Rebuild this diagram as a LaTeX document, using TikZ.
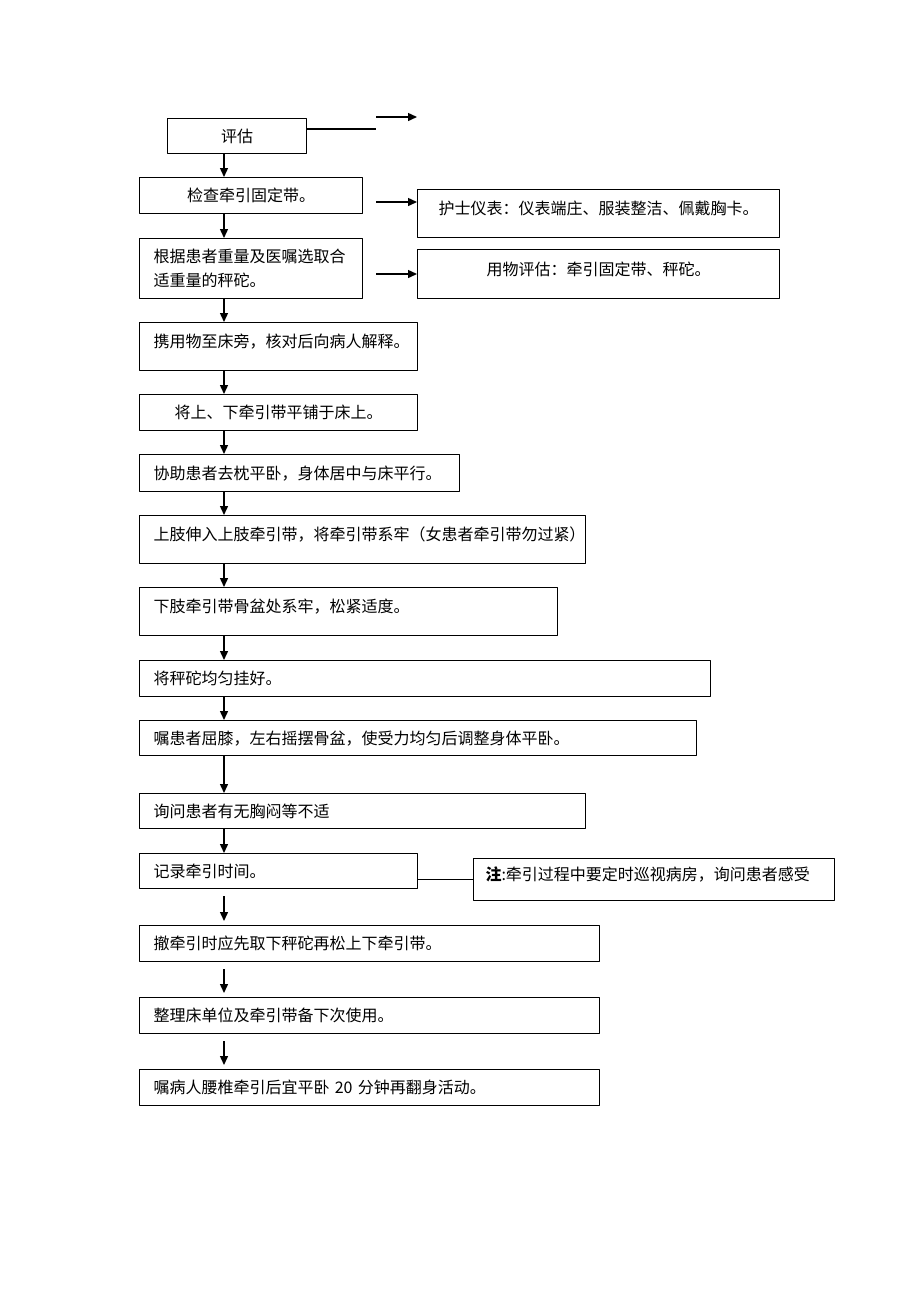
\documentclass[tikz,border=0pt]{standalone}
\usepackage{fontspec}
\setmainfont{Noto Sans CJK SC}
\usetikzlibrary{arrows.meta}
\begin{document}
\begin{tikzpicture}[x=1pt,y=-1pt,line join=round,
	every node/.style={font=\fontsize{16pt}{24pt}\selectfont},
	box/.style={draw,line width=1pt,anchor=north west,inner xsep=14pt,inner ysep=0pt,align=left},
	stepbox/.style={box,text height=14pt,text depth=2pt},
	raised/.style={text depth=12pt},
	arr/.style={-{Triangle[length=9pt,width=8pt]},line width=1.4pt}]
	\useasboundingbox (0,0) rectangle (920,1302);
	
	%------------cot chinh
	\node[stepbox,align=center,text width=111pt,minimum height=35pt] (assess) at (167,118) {评估};
	\node[stepbox,align=center,text width=195pt,minimum height=36pt] (check) at (139,177) {检查牵引固定带。};
	\node[box,text width=195pt,minimum height=60pt] (choose) at (139,238) {根据患者重量及医嘱选取合\\适重量的秤砣。};
	\node[stepbox,raised,text width=250pt,minimum height=48pt] (carry) at (139,322) {携用物至床旁，核对后向病人解释。};
	\node[stepbox,align=center,text width=250pt,minimum height=36pt] (spread) at (139,394) {将上、下牵引带平铺于床上。};
	\node[stepbox,text width=292pt,minimum height=37pt] (help) at (139,454) {协助患者去枕平卧，身体居中与床平行。};
	\node[stepbox,raised,text width=418pt,minimum height=48pt] (upper) at (139,515) {上肢伸入上肢牵引带，将牵引带系牢（女患者牵引带勿过紧）};
	\node[stepbox,raised,text width=390pt,minimum height=48pt] (lower) at (139,587) {下肢牵引带骨盆处系牢，松紧适度。};
	\node[stepbox,text width=543pt,minimum height=36pt] (hang) at (139,660) {将秤砣均匀挂好。};
	\node[stepbox,text width=529pt,minimum height=35pt] (knee) at (139,720) {嘱患者屈膝，左右摇摆骨盆，使受力均匀后调整身体平卧。};
	\node[stepbox,text width=418pt,minimum height=35pt] (ask) at (139,793) {询问患者有无胸闷等不适};
	\node[stepbox,text width=250pt,minimum height=35pt] (record) at (139,853) {记录牵引时间。};
	\node[stepbox,text width=432pt,minimum height=36pt] (remove) at (139,925) {撤牵引时应先取下秤砣再松上下牵引带。};
	\node[stepbox,text width=432pt,minimum height=36pt] (tidy) at (139,997) {整理床单位及牵引带备下次使用。};
	\node[stepbox,text width=432pt,minimum height=36pt] (advise) at (139,1069) {嘱病人腰椎牵引后宜平卧 20 分钟再翻身活动。};
	
	%------------ben phai
	\node[stepbox,raised,align=center,text width=334pt,minimum height=48pt] (nurse) at (417,189) {护士仪表：仪表端庄、服装整洁、佩戴胸卡。};
	\node[stepbox,raised,align=center,text width=334pt,minimum height=49pt] (tool) at (417,249) {用物评估：牵引固定带、秤砣。};
	\node[stepbox,raised,inner xsep=12pt,text width=337pt,minimum height=42pt] (note) at (473,858) {\textbf{注}:牵引过程中要定时巡视病房，询问患者感受};
	
	%------------mui ten
	\coordinate (ax) at (224,0);
	\foreach \a/\b in {assess/check,check/choose,choose/carry,carry/spread,spread/help,help/upper,upper/lower,lower/hang,hang/knee,knee/ask,ask/record}
	\draw[arr] (\a.south -| ax) -- (\b.north -| ax);
	\foreach \a/\b in {record/remove,remove/tidy,tidy/advise}
	\draw[arr,shorten <=7pt,shorten >=4pt] (\a.south -| ax) -- (\b.north -| ax);
	
	\coordinate (e1) at (376,129);
	\coordinate (t1) at (376,117);
	\coordinate (t2) at (417,117);
	\coordinate (n1) at (376,202);
	\coordinate (n2) at (376,274);
	\draw[line width=1.4pt] (assess.east |- e1) -- (e1);
	\draw[arr] (t1) -- (t2);
	\draw[arr] (n1) -- (n1 -| nurse.west);
	\draw[arr] (n2) -- (n2 -| tool.west);
	\draw[line width=1.4pt] (record.east |- note.west) -- (note.west);
\end{tikzpicture}
\end{document}
